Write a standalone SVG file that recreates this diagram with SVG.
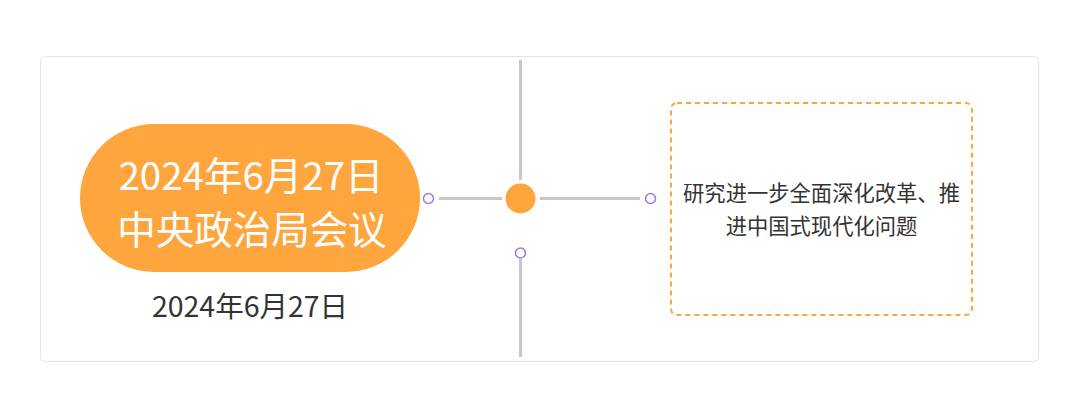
<svg xmlns="http://www.w3.org/2000/svg" width="1080" height="410" viewBox="0 0 1080 410">
<style>
.conn{stroke:#c6c6c6;stroke-width:3;fill:none}
.port{fill:#fff;stroke:#9b7be0;stroke-width:1.5}
.t{font-family:"Noto Sans CJK SC","Noto Sans",sans-serif}
</style>
<rect width="1080" height="410" fill="#fff"/>
<rect x="40.5" y="56.5" width="998" height="305" rx="5" fill="#fff" stroke="#e4e4e4" stroke-width="1"/>
<g id="connectors">
<line class="conn" x1="520.5" y1="60" x2="520.5" y2="180"/>
<line class="conn" x1="520.5" y1="259" x2="520.5" y2="357"/>
<line class="conn" x1="439" y1="198.5" x2="502" y2="198.5"/>
<line class="conn" x1="540" y1="198.5" x2="640" y2="198.5"/>
</g>
<g id="main-node">
<rect x="80" y="124" width="340" height="148" rx="74" fill="#ffa53d"/>
<text class="t" x="251" y="190" font-size="38.5" fill="#fff" text-anchor="middle">2024年6月27日</text>
<text class="t" x="252" y="244" font-size="38.5" fill="#fff" text-anchor="middle">中央政治局会议</text>
<text class="t" x="250" y="317" font-size="28.5" fill="#333" text-anchor="middle">2024年6月27日</text>
<circle class="port" cx="428.5" cy="198.5" r="5"/>
</g>
<g id="center-node">
<circle cx="520.5" cy="198.5" r="15" fill="#ffa53d"/>
<circle class="port" cx="520.5" cy="253" r="5"/>
</g>
<g id="topic-node">
<circle class="port" cx="650.5" cy="198.5" r="5"/>
<rect x="671" y="103" width="301" height="212" rx="6" fill="none" stroke="#ffa53d" stroke-width="2" stroke-dasharray="5,4"/>
<text class="t" x="821.5" y="201" font-size="21.3" fill="#333" text-anchor="middle">研究进一步全面深化改革、推</text>
<text class="t" x="821.5" y="234" font-size="21.3" fill="#333" text-anchor="middle">进中国式现代化问题</text>
</g>
</svg>
